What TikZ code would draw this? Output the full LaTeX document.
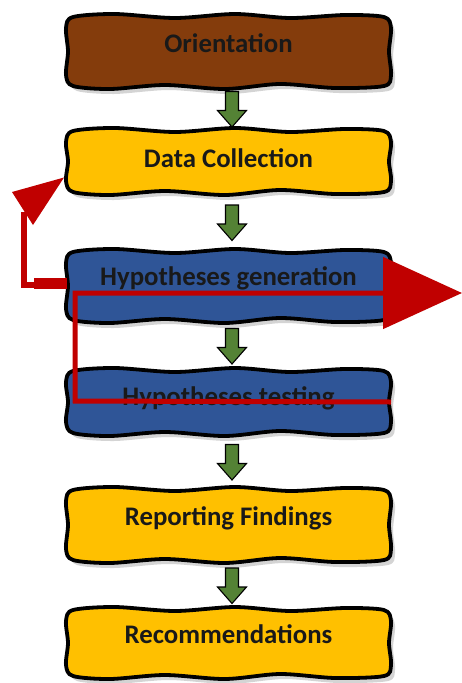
\documentclass[tikz,border=0pt]{standalone}
\usepackage{fontspec}
\setmainfont{Carlito}
\usetikzlibrary{calc,arrows.meta}
\definecolor{cbrown}{HTML}{843C0C}
\definecolor{cyellow}{HTML}{FFC000}
\definecolor{cblue}{HTML}{2F5597}
\definecolor{cred}{HTML}{C00000}
\definecolor{cgreen}{HTML}{548235}
\tikzset{
  boxline/.style={draw=black, line width=3.8pt, line join=round},
  boxshadow/.style={fill=black!30, opacity=.55},
  boxtext/.style={font=\bfseries\fontsize{26.8}{31}\selectfont, text=black!90, anchor=base, inner sep=0pt},
  greenarr/.style={fill=cgreen, draw=black, line width=1.1pt, line join=miter},
  redline/.style={draw=cred, line width=5pt},
}
% wavy box: #1 name, #2 top y, #3 bottom y, #4 fill, #5 text, #6 baseline y
\newcommand\wavybox[6]{%
  \pgfmathsetmacro\ymid{(#2+#3)/2}%
  \pgfmathsetmacro\bh{#3-#2}%
  \begin{scope}[shift={(4,5)}]
  \fill[boxshadow] plot[smooth cycle, tension=.5] coordinates {
    (73,#2+3) (115,#2) (175,#2+4) (235,#2) (290,#2+4) (345,#2+1) (384,#2+3)
    (391,#2+14) (389,\ymid) (391,#3-14)
    (384,#3-3) (335,#3-1) (280,#3-5) (225,#3) (165,#3-4) (110,#3) (73,#3-3)
    (66,#3-14) (68,\ymid) (66,#2+14)};
  \end{scope}
  \draw[boxline, fill=#4] plot[smooth cycle, tension=.5] coordinates {
    (73,#2+3) (115,#2) (175,#2+4) (235,#2) (290,#2+4) (345,#2+1) (384,#2+3)
    (391,#2+14) (389,\ymid) (391,#3-14)
    (384,#3-3) (335,#3-1) (280,#3-5) (225,#3) (165,#3-4) (110,#3) (73,#3-3)
    (66,#3-14) (68,\ymid) (66,#2+14)};
  \node[minimum width=325pt, minimum height=\bh pt, inner sep=0pt, outer sep=0pt] (#1) at (228.5,\ymid) {};
  \node[boxtext] (#1t) at (228.5,#6) {#5};
}
% green block arrow between two box nodes
\newcommand\greenarrow[2]{%
  \draw[greenarr] let \p1=($(#1.south)!.5!(#2.north)$) in
    (\x1-3pt,\y1+17pt) -- (\x1+10pt,\y1+17pt) -- (\x1+10pt,\y1-2pt)
    -- (\x1+18pt,\y1-2pt) -- (\x1+3.5pt,\y1-18.5pt) -- (\x1-11pt,\y1-2pt)
    -- (\x1-3pt,\y1-2pt) -- cycle;
}
\begin{document}
\begin{tikzpicture}[x=1pt,y=-1pt]
\useasboundingbox (0,0) rectangle (462,683);
\fill[white] (0,0) rectangle (462,683);

\wavybox{o}{14}{89}{cbrown}{Orientation}{52}
\wavybox{dc}{128}{195}{cyellow}{Data Collection}{167}
\wavybox{hg}{249}{323}{cblue}{Hypotheses generation}{285}
\wavybox{ht}{368}{436}{cblue}{Hypotheses testing}{405}
\wavybox{rf}{487}{563}{cyellow}{Reporting Findings}{525}
\wavybox{rc}{607}{679}{cyellow}{Recommendations}{643}

\greenarrow{o}{dc}
\greenarrow{dc}{hg}
\greenarrow{hg}{ht}
\greenarrow{ht}{rf}
\greenarrow{rf}{rc}

% red loop back from hypotheses generation to data collection
\coordinate (r1a) at ($(hg.west)+(1,-3)$);
\coordinate (r1b) at (24,285);
\coordinate (r1c) at (24,212);
\coordinate (dctip) at ($(dc.west)+(-2,16)$);
\draw[draw=cred, line width=11pt] (r1a) -- ++(-33,0);
\draw[redline, line width=6pt] ($(r1a)+(-31,2)$) -- (r1b) -- (r1c);
\fill[cred] (12,192) -- (dctip) -- (33,225) -- cycle;

% red path from hypotheses testing through hypotheses generation
\coordinate (r2a) at (75,401);
\coordinate (r2b) at (75,293);
\coordinate (r2c) at (462,293);
\draw[redline, -{Triangle[length=79pt,width=71pt]}] (ht.east) -- (r2a) -- (r2b) -- (r2c);
\end{tikzpicture}
\end{document}
